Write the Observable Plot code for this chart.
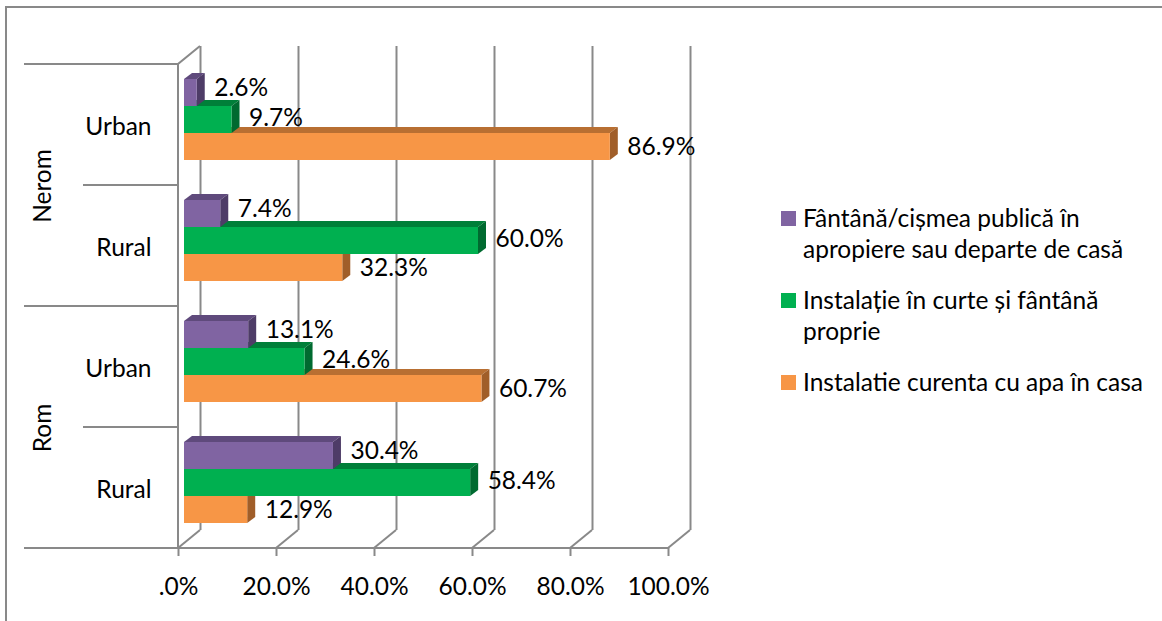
<!DOCTYPE html>
<html>
<head>
<meta charset="utf-8">
<script src="https://cdn.jsdelivr.net/npm/d3@7"></script>
<script src="https://cdn.jsdelivr.net/npm/@observablehq/plot@0.6"></script>
<style>
  html, body { margin: 0; padding: 0; background: #fff; }
  #wrap { position: relative; width: 1162px; height: 621px; font-family: Lato, "Open Sans", sans-serif; }
  #legend { position: absolute; left: 781px; top: 202px; display: flex; flex-direction: column; gap: 20px; color: #000; font-size: 24.5px; line-height: 31px; }
  .item { display: flex; align-items: flex-start; }
  .sw { width: 15px; height: 15px; margin-top: 9px; margin-right: 7px; flex: none; }
  .txt { white-space: pre-line; }
</style>
</head>
<body>
<div id="wrap"><div id="legend"></div></div>
<script>
// ---- data ----
const groups = ["Nerom", "Nerom", "Rom", "Rom"];
const categories = ["Urban", "Rural", "Urban", "Rural"];
const series = [
  "Fântână/cișmea publică în\napropiere sau departe de casă",
  "Instalație în curte și fântână\nproprie",
  "Instalatie curenta cu apa în casa"
];
const fantanaPublica = [2.6, 7.4, 13.1, 30.4];
const instalatieCurte = [9.7, 60.0, 24.6, 58.4];
const apaInCasa = [86.9, 32.3, 60.7, 12.9];
const tickValues = [0, 20, 40, 60, 80, 100];
const tickLabels = [".0%", "20.0%", "40.0%", "60.0%", "80.0%", "100.0%"];

// ---- styles ----
const frontColors = ["#8064A2", "#00B050", "#F79646"];
const topColors = ["#5F4A7C", "#007F39", "#B86F32"];
const sideColors = ["#4E3C67", "#006A30", "#A05E29"];
const GRID = "#898989";
const FONT = "Lato, 'Open Sans', sans-serif";
const FS = 24.5;
const insets = [[15, 79], [42, 52], [69, 25]];
const labelDy = [-37, -6.5, 22];

const keys = groups.map((g, i) => g + "|" + categories[i]);
const valuesBySeries = [fantanaPublica, instalatieCurte, apaInCasa];
const rows = [];
valuesBySeries.forEach((vals, si) => vals.forEach((v, i) => rows.push({key: keys[i], series: si, value: v})));

function walls(index, scales, values, dims) {
  const {x, y} = scales;
  const bw = y.bandwidth ? y.bandwidth() : (dims.height - dims.marginTop - dims.marginBottom) / keys.length;
  const x0 = x(0);
  const yTop = y(keys[0]);
  const yBot = y(keys[keys.length - 1]) + bw;
  const g = d3.create("svg:g").attr("fill", "none").attr("stroke", GRID).attr("stroke-width", 2);
  g.append("path").attr("d", `M6,${dims.height}V7H${dims.width}`);
  g.append("path").attr("d", `M${x0},${yBot}V${yTop}l22,-18`);
  g.append("path").attr("d", `M24,${yBot}H${x(100)}`);
  keys.forEach((k, i) => {
    const start = i % 2 === 0 ? 24 : 83;
    g.append("path").attr("d", `M${start},${y(k)}H${x0}`);
  });
  tickValues.forEach(t => g.append("path").attr("d", `M${x(t)},${yBot}l22,-18`));
  return g.node();
}

function faces(si) {
  return (index, scales, values, dims) => {
    const {x, y} = scales;
    const bw = y.bandwidth ? y.bandwidth() : (dims.height - dims.marginTop - dims.marginBottom) / keys.length;
    const g = d3.create("svg:g");
    rows.filter(r => r.series === si).forEach(r => {
      const xa = x(0) + 6, xb = x(r.value) + 6;
      const yt = y(r.key) + insets[si][0];
      const yb = y(r.key) + bw - insets[si][1];
      g.append("path").attr("fill", topColors[si])
        .attr("d", `M${xa},${yt}L${xb},${yt}l8,-6L${xa + 8},${yt - 6}Z`);
      g.append("path").attr("fill", sideColors[si])
        .attr("d", `M${xb},${yt}l8,-6V${yb - 6}L${xb},${yb}Z`);
    });
    return g.node();
  };
}

const marks = [
  walls,
  Plot.ruleX(tickValues, {x: d => d, dx: 22, dy: -18, stroke: GRID, strokeWidth: 2}),
  Plot.axisX({ticks: tickValues, tickFormat: d => tickLabels[tickValues.indexOf(d)], tickSize: 8, tickPadding: 21,
    stroke: GRID, strokeWidth: 2, fill: "#000", fontSize: FS, fontFamily: FONT, label: null}),
  Plot.axisY({tickSize: 0, tickPadding: 27, tickFormat: d => d.split("|")[1], fill: "#000",
    fontSize: FS, fontFamily: FONT, label: null, dy: 2}),
  Plot.text([{g: groups[0], key: keys[0]}, {g: groups[2], key: keys[2]}],
    {y: "key", text: "g", frameAnchor: "left", textAnchor: "middle", dx: -135, dy: 61, rotate: -90,
     fontSize: FS, fontFamily: FONT, fill: "#000"})
];
[2, 1, 0].forEach(si => {
  const data = rows.filter(r => r.series === si);
  marks.push(faces(si));
  marks.push(Plot.barX(data, {y: "key", x: "value", fill: frontColors[si],
    insetTop: insets[si][0], insetBottom: insets[si][1], dx: 6}));
});
[0, 1, 2].forEach(si => {
  const data = rows.filter(r => r.series === si);
  marks.push(Plot.text(data, {x: "value", y: "key", text: d => d.value.toFixed(1) + "%",
    dx: 23, dy: labelDy[si], textAnchor: "start", fontSize: FS, fontFamily: FONT, fill: "#000"}));
});

const plot = Plot.plot({
  width: 1162, height: 621,
  marginLeft: 178, marginRight: 494, marginTop: 64, marginBottom: 73,
  x: {domain: [0, 100], axis: null},
  y: {domain: keys, padding: 0, axis: null},
  style: {fontFamily: FONT, background: "transparent", overflow: "visible"},
  marks
});
const wrap = document.getElementById("wrap");
wrap.insertBefore(plot, wrap.firstChild);

const legend = d3.select("#legend");
series.forEach((s, i) => {
  const it = legend.append("div").attr("class", "item");
  it.append("div").attr("class", "sw").style("background", frontColors[i]);
  it.append("div").attr("class", "txt").text(s);
});
</script>
</body>
</html>
